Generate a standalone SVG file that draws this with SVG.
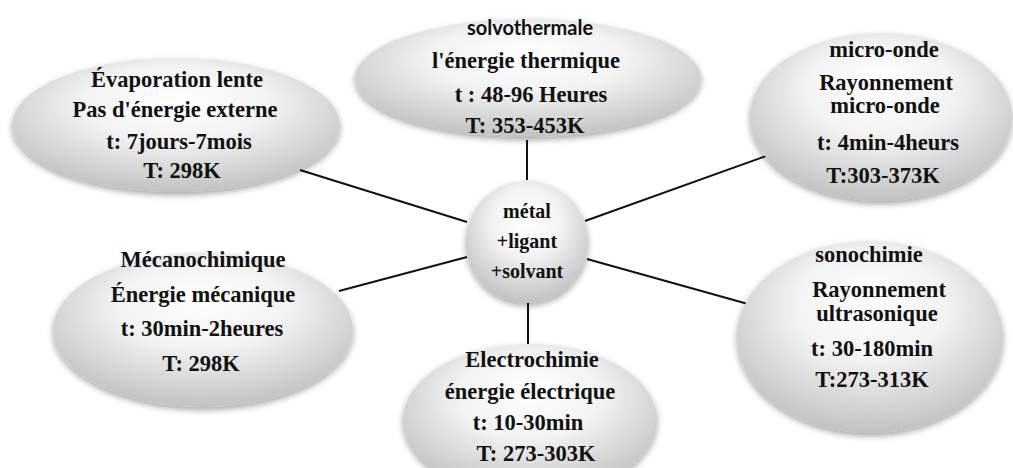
<svg xmlns="http://www.w3.org/2000/svg" width="1013" height="468" viewBox="0 0 1013 468">
<defs>
<radialGradient id="g" cx="50%" cy="38%" r="62%" fx="50%" fy="30%">
<stop offset="0" stop-color="#ffffff"/>
<stop offset="0.45" stop-color="#f3f3f3"/>
<stop offset="1" stop-color="#c2c2c2"/>
</radialGradient>
<filter id="sh" x="-10%" y="-10%" width="120%" height="130%">
<feDropShadow dx="0" dy="3" stdDeviation="3" flood-color="#000" flood-opacity="0.35"/>
</filter>
<style>
.n{fill:url(#g);filter:url(#sh);}
.t{font-family:"Liberation Serif","Times New Roman",serif;font-weight:bold;font-size:22.5px;fill:#111;text-anchor:middle;}
.s{font-family:Lato,"Liberation Sans",sans-serif;font-weight:bold;font-size:20px;fill:#111;text-anchor:middle;}
.c{font-size:20px;}
.l{stroke:#111;stroke-width:2;fill:none;}
</style>
</defs>
<rect width="1013" height="468" fill="#fff"/>
<g id="connectors">
<line class="l" x1="300" y1="170" x2="467" y2="222"/>
<line class="l" x1="527" y1="140" x2="527" y2="180"/>
<line class="l" x1="585" y1="221" x2="769" y2="155"/>
<line class="l" x1="339" y1="291" x2="467" y2="257"/>
<line class="l" x1="528" y1="302" x2="528" y2="344"/>
<line class="l" x1="587" y1="259" x2="748" y2="304"/>
</g>
<g id="evaporation">
<ellipse class="n" cx="176" cy="125" rx="164" ry="67"/>
<text class="t" x="177" y="87">Évaporation lente</text>
<text class="t" x="175" y="117">Pas d'énergie externe</text>
<text class="t" x="179" y="149">t: 7jours-7mois</text>
<text class="t" x="182" y="178">T: 298K</text>
</g>
<g id="solvothermale">
<ellipse class="n" cx="528" cy="78" rx="173" ry="59"/>
<text class="s" x="530" y="35">solvothermale</text>
<text class="t" x="526" y="68">l'énergie thermique</text>
<text class="t" x="531" y="102">t : 48-96 Heures</text>
<text class="t" x="525" y="133">T: 353-453K</text>
</g>
<g id="micro-onde">
<ellipse class="n" cx="881" cy="117" rx="131" ry="84"/>
<text class="t" x="884" y="57">micro-onde</text>
<text class="t" x="886" y="90">Rayonnement</text>
<text class="t" x="885" y="113">micro-onde</text>
<text class="t" x="888" y="150">t: 4min-4heurs</text>
<text class="t" x="883" y="183">T:303-373K</text>
</g>
<g id="centre">
<circle class="n" cx="527" cy="242" r="61"/>
<text class="t c" x="527" y="218">métal</text>
<text class="t c" x="527" y="248">+ligant</text>
<text class="t c" x="527" y="278">+solvant</text>
</g>
<g id="mecanochimique">
<ellipse class="n" cx="203" cy="330" rx="150" ry="77"/>
<text class="t" x="203" y="267">Mécanochimique</text>
<text class="t" x="203" y="302">Énergie mécanique</text>
<text class="t" x="202" y="336">t: 30min-2heures</text>
<text class="t" x="201" y="371">T: 298K</text>
</g>
<g id="electrochimie">
<ellipse class="n" cx="530" cy="420" rx="127" ry="76"/>
<text class="t" x="532" y="367">Electrochimie</text>
<text class="t" x="530" y="399">énergie électrique</text>
<text class="t" x="528" y="430">t: 10-30min</text>
<text class="t" x="536" y="461">T: 273-303K</text>
</g>
<g id="sonochimie">
<ellipse class="n" cx="870" cy="337" rx="133" ry="96"/>
<text class="t" x="869" y="262">sonochimie</text>
<text class="t" x="879" y="297">Rayonnement</text>
<text class="t" x="877" y="321">ultrasonique</text>
<text class="t" x="872" y="356">t: 30-180min</text>
<text class="t" x="872" y="387">T:273-313K</text>
</g>
</svg>
